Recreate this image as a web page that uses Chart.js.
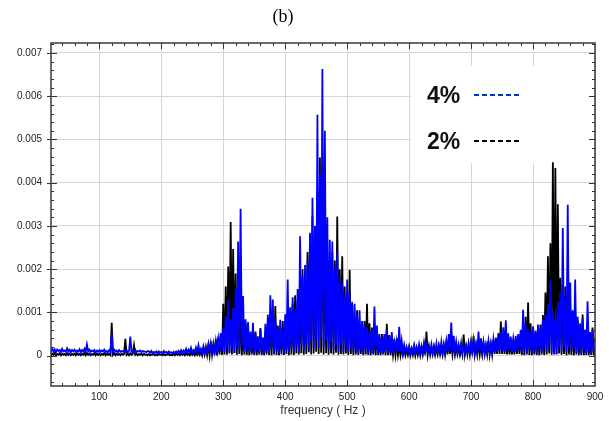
<!DOCTYPE html>
<html>
<head>
<meta charset="utf-8">
<script src="https://cdn.jsdelivr.net/npm/chart.js@4.4.1/dist/chart.umd.min.js"></script>
<style>
  html, body { margin: 0; padding: 0; background: #fff; }
  #wrap { position: relative; width: 609px; height: 421px; }
</style>
</head>
<body>
<div id="wrap"><canvas id="spectrum" width="609" height="421"></canvas></div>
<script>
  // spectrum samples, 2 Hz apart starting at 20 Hz, amplitude in units of 1e-4
  const FREQ_START = 20;
  const FREQ_STEP = 2;
  const UNIT = 1e-4;

  // 4% case
  const AMP_4PCT = [
    1.8,0.9,1.6,1.0,1.5,0.8,1.4,1.1,1.3,0.9,1.6,1.0,1.2,0.9,1.7,1.0,1.4,0.8,1.3,1.0,          // 20
    1.4,0.9,1.2,1.0,1.5,0.8,1.3,1.0,1.6,0.9,2.6,1.0,1.4,0.9,1.2,1.0,1.3,0.8,1.2,0.9,          // 60
    1.3,0.9,1.2,1.0,1.4,0.9,1.1,0.8,1.3,1.0,5.3,0.9,1.4,1.0,1.2,0.8,1.3,0.9,1.1,1.0,          // 100
    1.2,0.9,1.3,0.8,1.1,4.4,1.0,1.2,0.9,1.4,0.8,1.1,1.0,1.2,0.8,1.1,0.9,1.0,0.8,1.1,          // 140
    1.0,0.7,1.1,0.6,0.9,0.7,1.0,0.6,1.0,0.7,0.9,0.6,1.1,0.7,0.9,0.6,1.0,0.7,0.8,0.6,          // 180
    0.9,0.6,1.0,0.7,1.1,0.6,1.3,0.7,1.2,0.8,1.6,0.7,1.4,0.8,1.8,0.7,1.3,0.8,1.9,0.8,          // 220
    2.4,0.8,1.6,0.7,2.2,0.9,1.8,0.8,2.6,0.9,2.9,1.0,2.4,0.9,3.4,1.1,3.8,1.0,5.2,1.2,          // 260
    6.5,0.9,9.2,1.6,12.8,0.8,8.4,1.5,11.0,0.7,15.6,2.0,26.4,1.2,34.0,2.4,13.8,0.9,8.4,1.4,    // 300
    7.8,0.8,5.6,1.3,7.6,0.6,5.2,1.2,4.5,0.7,6.0,1.2,4.2,0.6,7.4,1.3,9.5,0.8,14.0,1.6,         // 340
    13.0,0.7,8.8,1.2,6.5,0.6,8.3,1.3,6.0,0.7,9.6,1.4,17.6,0.8,11.2,1.8,13.5,0.9,10.8,2.2,     // 380
    15.4,1.0,27.6,2.6,18.5,1.2,21.0,2.8,22.0,1.4,28.4,3.2,36.5,1.6,30.0,3.6,55.7,1.8,42.0,4.2, // 420
    66.3,2.0,52.0,3.6,32.0,1.4,26.8,3.0,26.4,1.2,20.5,2.6,24.0,1.0,18.0,2.6,16.5,0.9,14.0,2.0, // 460
    17.6,0.9,15.0,1.8,12.5,0.8,12.0,1.5,9.6,0.7,10.5,1.3,8.0,0.6,7.0,1.3,6.5,0.7,5.8,1.4,     // 500
    6.2,0.6,11.4,1.3,7.0,0.6,5.0,1.0,4.4,0.5,5.0,1.0,6.0,0.5,4.5,1.0,5.5,0.5,3.8,0.8,        // 540
    4.0,0.9,6.7,1.0,3.5,0.8,2.5,0.8,2.0,0.7,2.2,0.7,1.8,0.8,2.4,0.7,2.0,0.8,2.6,0.8,          // 580
    2.2,0.8,3.0,0.9,2.4,0.8,2.0,0.7,2.6,0.8,2.2,0.7,2.8,0.8,2.4,0.9,3.2,0.8,2.6,0.9,          // 620
    3.4,1.0,5.0,1.1,7.7,1.2,4.6,1.0,3.2,0.9,2.6,0.8,3.0,0.9,2.4,0.8,2.2,0.8,2.8,0.9,          // 660
    3.0,0.9,3.6,1.0,2.8,0.9,5.6,1.0,4.0,0.9,3.2,0.8,2.6,0.9,3.4,0.8,2.8,0.9,3.8,1.0,          // 700
    4.2,1.0,3.6,1.1,5.4,1.2,6.6,1.1,8.2,1.3,5.2,1.1,4.4,1.0,3.8,1.1,4.6,1.2,5.0,1.3,          // 740
    6.0,0.8,10.6,1.6,7.4,0.7,6.2,1.4,5.4,0.6,6.8,1.4,5.8,0.7,7.2,1.6,6.4,0.8,8.4,2.0,         // 780
    9.6,0.9,12.0,2.0,17.6,0.8,10.2,0.3,9.0,0.4,12.5,1.6,14.8,0.9,29.5,2.0,13.0,0.8,34.9,2.0,  // 820
    16.9,0.8,10.5,1.6,17.6,0.7,9.0,1.4,7.5,0.6,8.6,1.2,6.0,0.6,12.6,1.2,5.5,0.5,6.0,1.0,      // 860
    4.0                                                                                        // 900
  ];

  // 2% case
  const AMP_2PCT = [
    0.6,0.1,0.5,0.2,0.7,0.1,0.4,0.2,0.6,0.1,0.5,0.2,0.4,0.1,0.6,0.2,0.5,0.1,0.4,0.2,          // 20
    0.5,0.1,0.6,0.2,0.4,0.1,0.5,0.2,0.7,0.1,0.6,0.2,0.5,0.1,0.4,0.2,0.6,0.1,0.5,0.2,          // 60
    0.5,0.1,0.4,0.2,0.6,0.1,0.5,0.2,0.4,0.1,7.6,0.2,0.6,0.1,0.5,0.2,0.4,0.1,0.5,0.2,          // 100
    0.4,3.9,0.2,0.5,0.1,0.6,0.2,0.4,2.4,0.2,0.5,0.1,0.4,0.2,0.5,0.1,0.4,0.2,0.3,0.1,          // 140
    0.4,0.1,0.3,0.2,0.4,0.1,0.3,0.1,0.4,0.2,0.3,0.1,0.4,0.1,0.3,0.2,0.4,0.1,0.3,0.1,          // 180
    0.4,0.1,0.5,0.2,0.4,0.1,0.6,0.2,0.5,0.1,0.7,0.2,0.5,0.1,0.8,0.2,0.6,0.1,0.9,0.2,          // 220
    0.8,0.2,1.2,0.1,1.6,0.3,2.0,0.2,2.4,0.1,3.3,0.3,2.6,0.2,3.8,0.1,4.4,0.3,5.2,0.2,          // 260
    12.0,0.3,16.0,0.2,20.6,0.5,30.9,0.3,24.7,0.6,19.0,0.2,14.0,0.4,11.0,0.1,8.3,0.3,7.5,0.2,  // 300
    6.2,0.1,5.0,0.3,4.4,0.2,5.6,0.1,4.0,0.3,6.4,0.2,3.8,0.1,5.2,0.3,7.0,0.2,8.5,0.1,          // 340
    9.5,0.3,11.5,0.2,7.0,0.1,6.5,0.3,8.0,0.2,7.5,0.4,9.0,0.1,10.5,0.3,12.0,0.2,14.0,0.5,      // 380
    13.0,0.3,16.0,0.6,20.0,0.2,18.0,0.4,24.0,0.8,28.0,0.3,32.2,0.5,30.0,0.9,38.0,0.4,45.8,0.7, // 420
    40.0,0.3,30.0,0.6,22.0,0.2,20.0,0.5,24.0,0.3,22.0,0.7,32.2,0.2,20.0,0.4,23.0,0.3,16.0,0.5, // 460
    14.0,0.2,19.9,0.4,12.0,0.1,9.0,0.3,10.5,0.2,7.0,0.4,6.5,0.1,8.0,0.3,12.0,0.2,7.5,0.1,     // 500
    6.5,0.3,5.0,0.1,6.0,0.2,4.2,0.1,5.0,0.3,4.4,0.1,7.4,0.2,4.8,0.1,3.2,0.2,2.8,0.1,          // 540
    3.0,0.2,2.4,0.1,2.0,0.2,1.6,0.1,1.4,0.2,1.8,0.1,1.5,0.2,2.0,0.1,1.6,0.2,1.8,0.1,          // 580
    2.0,0.3,2.4,0.3,5.6,0.3,2.2,0.2,1.8,0.3,2.0,0.2,1.6,0.3,2.2,0.3,1.8,0.2,2.4,0.3,          // 620
    2.8,0.3,4.0,0.4,3.2,0.3,2.6,0.3,2.2,0.3,1.8,0.2,1.8,0.3,4.9,0.3,2.2,0.3,2.6,0.3,          // 660
    3.0,0.3,4.5,0.3,2.4,0.3,3.0,0.3,2.6,0.3,2.8,0.3,2.2,0.3,3.4,0.3,2.6,0.3,3.6,0.4,          // 700
    4.0,0.4,5.2,0.4,7.9,0.4,5.0,0.4,4.4,0.3,4.0,0.3,3.4,0.3,3.0,0.3,3.8,0.4,4.6,0.4,          // 740
    5.0,0.2,7.0,0.1,9.0,0.3,12.3,0.2,7.5,0.1,6.0,0.3,5.4,0.2,6.6,0.1,7.2,0.3,9.4,0.2,         // 780
    14.6,0.3,23.0,0.5,26.0,0.2,44.7,0.6,43.4,0.3,35.0,0.5,18.0,0.2,17.0,0.4,16.0,0.1,13.0,0.3, // 820
    11.0,0.2,9.0,0.1,10.0,0.3,8.0,0.1,7.0,0.2,9.5,0.1,6.0,0.2,7.5,0.1,5.0,0.2,6.5,0.1,        // 860
    3.0                                                                                        // 900
  ];

  const SERIES_LABELS = ["4%", "2%"];
  const X_TICKS = [100, 200, 300, 400, 500, 600, 700, 800, 900];
  const Y_TICKS = [0, 0.001, 0.002, 0.003, 0.004, 0.005, 0.006, 0.007];
  const Y_TICK_LABELS = ["0", "0.001", "0.002", "0.003", "0.004", "0.005", "0.006", "0.007"];

  const TICK_FONT = { family: "'Liberation Sans', Arial, sans-serif", size: 10 };
  const LEGEND_BOX = { x: 411, y: 66, w: 182, h: 97 };

  function toPoints(arr) {
    return arr.map((v, i) => ({ x: FREQ_START + i * FREQ_STEP, y: v * UNIT }));
  }

  function strokeLine(ctx, x1, y1, x2, y2) {
    ctx.beginPath();
    ctx.moveTo(x1, y1);
    ctx.lineTo(x2, y2);
    ctx.stroke();
  }

  // frame, inward tick marks, title and the little legend
  const decor = {
    id: "decor",
    beforeDatasetsDraw(chart) {
      const ctx = chart.ctx;
      ctx.save();
      ctx.fillStyle = "#fff";
      ctx.fillRect(LEGEND_BOX.x, LEGEND_BOX.y, LEGEND_BOX.w, LEGEND_BOX.h);
      ctx.restore();
    },
    afterDatasetsDraw(chart) {
      const ctx = chart.ctx;
      const { left, right, top, bottom } = chart.chartArea;
      const xs = chart.scales.x;
      const ys = chart.scales.y;

      ctx.save();
      ctx.strokeStyle = "#333";
      ctx.lineWidth = 1;

      for (let f = 40; f < 900; f += 20) {
        const px = Math.round(xs.getPixelForValue(f)) + 0.5;
        const len = f % 100 === 0 ? 6 : 3;
        strokeLine(ctx, px, bottom, px, bottom - len);
        strokeLine(ctx, px, top, px, top + len);
      }

      for (let k = -3; k <= 36; k++) {
        const py = Math.round(ys.getPixelForValue(k * 0.0002)) + 0.5;
        const major = k % 5 === 0;
        const len = major ? 6 : 3;
        strokeLine(ctx, major ? left - 4 : left, py, left + len, py);
        strokeLine(ctx, right, py, right - len, py);
      }

      ctx.lineWidth = 1.5;
      ctx.strokeStyle = "#3a3a3a";
      ctx.strokeRect(left, top, right - left, bottom - top);
      ctx.restore();
    },
    afterDraw(chart) {
      const ctx = chart.ctx;
      ctx.save();

      ctx.fillStyle = "#000";
      ctx.font = "18px 'Liberation Serif', 'Times New Roman', serif";
      ctx.textAlign = "center";
      ctx.textBaseline = "alphabetic";
      ctx.fillText("(b)", 283, 22);

      ctx.textAlign = "left";
      ctx.font = "bold 23px 'Liberation Sans', Arial, sans-serif";
      chart.data.datasets.forEach((ds, i) => {
        const baseY = 103 + i * 46;
        ctx.fillStyle = "#111";
        ctx.fillText(ds.label, 427, baseY);
        ctx.strokeStyle = ds.legendColor;
        ctx.lineWidth = 2;
        ctx.setLineDash([5, 3]);
        strokeLine(ctx, 474, baseY - 8, 521, baseY - 8);
        ctx.setLineDash([]);
      });

      ctx.restore();
    }
  };

  new Chart(document.getElementById("spectrum").getContext("2d"), {
    type: "line",
    data: {
      datasets: [
        {
          label: SERIES_LABELS[0],
          data: toPoints(AMP_4PCT),
          borderColor: "#0000ff",
          legendColor: "#0033cc",
          borderWidth: 1.8,
          pointRadius: 0,
          tension: 0
        },
        {
          label: SERIES_LABELS[1],
          data: toPoints(AMP_2PCT),
          borderColor: "#000000",
          legendColor: "#000000",
          borderWidth: 1.8,
          pointRadius: 0,
          tension: 0
        }
      ]
    },
    options: {
      responsive: false,
      devicePixelRatio: 1,
      animation: false,
      parsing: false,
      layout: { padding: { top: 43, right: 14, left: 0, bottom: 0 } },
      plugins: {
        legend: { display: false },
        tooltip: { enabled: false }
      },
      scales: {
        x: {
          type: "linear",
          min: 22,
          max: 900,
          afterBuildTicks: (s) => { s.ticks = X_TICKS.map(v => ({ value: v })); },
          afterFit: (s) => { s.height = 35; },
          ticks: {
            autoSkip: false,
            maxRotation: 0,
            padding: 5,
            color: "#222",
            font: TICK_FONT,
            callback: (v) => String(v)
          },
          grid: { color: "#d6d6d6", lineWidth: 1, drawTicks: false },
          border: { display: false },
          title: {
            display: true,
            text: "frequency ( Hz )",
            color: "#333",
            font: { family: "'Liberation Sans', Arial, sans-serif", size: 12 },
            padding: { top: 0, bottom: 3 }
          }
        },
        y: {
          type: "linear",
          min: -0.0007,
          max: 0.00723,
          afterBuildTicks: (s) => { s.ticks = Y_TICKS.map(v => ({ value: v })); },
          afterFit: (s) => { s.width = 51; },
          ticks: {
            autoSkip: false,
            padding: 9,
            color: "#222",
            font: TICK_FONT,
            callback: (v, i) => Y_TICK_LABELS[i]
          },
          grid: { color: "#d6d6d6", lineWidth: 1, drawTicks: false },
          border: { display: false }
        }
      }
    },
    plugins: [decor]
  });
</script>
</body>
</html>
